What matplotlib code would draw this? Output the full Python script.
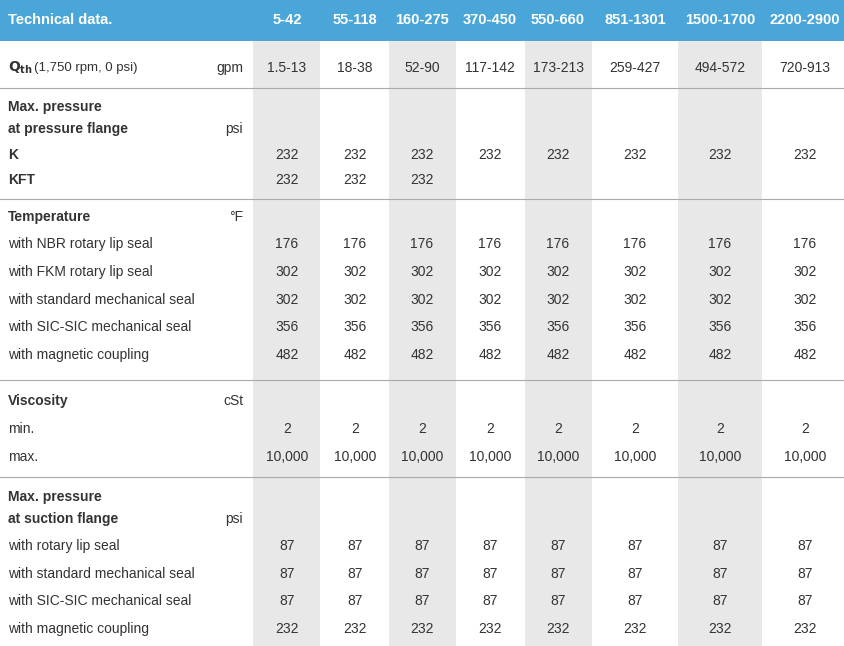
import matplotlib
matplotlib.use("Agg")
import matplotlib.pyplot as plt
from matplotlib.patches import Rectangle

columns = ["5-42", "55-118", "160-275", "370-450", "550-660", "851-1301", "1500-1700", "2200-2900"]
qth = ["1.5-13", "18-38", "52-90", "117-142", "173-213", "259-427", "494-572", "720-913"]
press_K = ["232"] * 8
press_KFT = ["232", "232", "232", "", "", "", "", ""]
temp_nbr = ["176"] * 8
temp_fkm = ["302"] * 8
temp_std = ["302"] * 8
temp_sic = ["356"] * 8
temp_mag = ["482"] * 8
visc_min = ["2"] * 8
visc_max = ["10,000"] * 8
suct_rot = ["87"] * 8
suct_std = ["87"] * 8
suct_sic = ["87"] * 8
suct_mag = ["232"] * 8

plt.rcParams["font.family"] = "Liberation Sans"
W, H = 844, 646
fig = plt.figure(figsize=(8.44, 6.46), dpi=100)
ax = fig.add_axes([0, 0, 1, 1])
ax.set_xlim(0, W); ax.set_ylim(H, 0); ax.axis("off")

col_x = [287, 355, 422, 490, 558, 635, 720, 805]
bounds = [253, 320, 389, 456, 525, 592, 678, 762, 844]
TC = "#333333"
for i in (0, 2, 4, 6):
    ax.add_patch(Rectangle((bounds[i], 40), bounds[i+1]-bounds[i], H-40, color="#e8e8e8", lw=0))
ax.add_patch(Rectangle((0, 0), W, 41, color="#4aa6d8", lw=0))
ax.text(8, 20, "Technical data.", color="white", fontsize=10.5, fontweight="bold", va="center")
for x, c in zip(col_x, columns):
    ax.text(x, 20, c, color="white", fontsize=10.5, fontweight="bold", va="center", ha="center")

for y in (88, 199, 380, 477):
    ax.plot([0, W], [y, y], color="#aaaaaa", lw=0.8)

def label(y, s, bold=False, unit=None):
    ax.text(8, y, s, color=TC, fontsize=10, va="center", fontweight="bold" if bold else "normal")
    if unit:
        ax.text(243, y, unit, color=TC, fontsize=10, va="center", ha="right")

def row(y, vals):
    for x, v in zip(col_x, vals):
        ax.text(x, y, v, color=TC, fontsize=10, va="center", ha="center")

ax.text(8, 68, r"$\mathbf{Q_{th}}$", color=TC, fontsize=10, va="center")
ax.text(34, 68, "(1,750 rpm, 0 psi)", color=TC, fontsize=9.5, va="center")
ax.text(243, 68, "gpm", color=TC, fontsize=10, va="center", ha="right")
row(68, qth)

label(107, "Max. pressure", True)
label(129, "at pressure flange", True, "psi")
label(155, "K", True); row(155, press_K)
label(180, "KFT", True); row(180, press_KFT)

label(217, "Temperature", True, "°F")
for y, s, v in [(244, "with NBR rotary lip seal", temp_nbr), (272, "with FKM rotary lip seal", temp_fkm),
                (300, "with standard mechanical seal", temp_std), (327, "with SIC-SIC mechanical seal", temp_sic),
                (355, "with magnetic coupling", temp_mag)]:
    label(y, s); row(y, v)

label(401, "Viscosity", True, "cSt")
label(429, "min."); row(429, visc_min)
label(457, "max."); row(457, visc_max)

label(497, "Max. pressure", True)
label(519, "at suction flange", True, "psi")
for y, s, v in [(546, "with rotary lip seal", suct_rot), (574, "with standard mechanical seal", suct_std),
                (601, "with SIC-SIC mechanical seal", suct_sic), (629, "with magnetic coupling", suct_mag)]:
    label(y, s); row(y, v)

fig.savefig("out.png", dpi=100)
